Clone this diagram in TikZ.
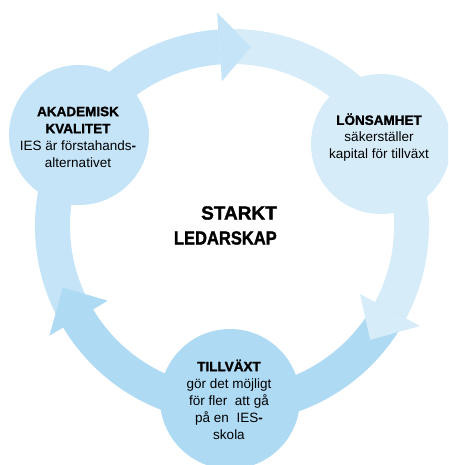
\documentclass[tikz,border=0pt]{standalone}
\usepackage{fontspec}
\setmainfont{Liberation Sans}
\newfontfamily\heavyfont[UprightFont={* Bold}, FakeBold=1.6]{Liberation Sans}
\usepackage{graphicx}
\definecolor{cA}{RGB}{197,228,247}
\definecolor{cB}{RGB}{214,236,249}
\definecolor{cC}{RGB}{174,218,244}
\begin{document}
\begin{tikzpicture}[x=1pt,y=1pt,
  circ/.style={circle, minimum size=140pt, inner sep=0pt},
  lbl/.style={align=center, font=\fontsize{13.5}{17}\selectfont, inner sep=0pt},
  title/.style={align=right, font=\heavyfont\fontsize{19}{25}\selectfont, inner sep=0pt}]
\useasboundingbox (0,0) rectangle (448,-465);
\clip (0,0) rectangle (448,-465);
\coordinate (O) at (232,-226);
% bands
\fill[cA] ([shift={(O)}]211:197) arc[start angle=211,end angle=94,radius=197]
  -- ([shift={(O)}]94:162) arc[start angle=94,end angle=211,radius=162] -- cycle;
\fill[cB] ([shift={(O)}]94:197) arc[start angle=94,end angle=-28,radius=197]
  -- ([shift={(O)}]-28:162) arc[start angle=-28,end angle=94,radius=162] -- cycle;
\fill[cC] ([shift={(O)}]332:197) arc[start angle=332,end angle=211,radius=197]
  -- ([shift={(O)}]211:162) arc[start angle=211,end angle=332,radius=162] -- cycle;
% circles
\node[circ, fill=cA] (akc) at (79,-135) {};
\node[circ, fill=cB] (lonc) at (381,-144) {};
\node[circ, fill=cC] (tilc) at (230,-399) {};
% arrowheads
\fill[cA] ([shift={(O)}]94:145) -- ([shift={(O)}]94:214) -- ([shift={(O)}]84:180) -- cycle;
\fill[cB] ([shift={(O)}]-28:145) -- ([shift={(O)}]-28:213) -- ([shift={(O)}]-39.5:179) -- cycle;
\fill[cC] ([shift={(O)}]211:145) -- ([shift={(O)}]211:213) -- ([shift={(O)}]200:180) -- cycle;
% texts
\node[lbl] (akt) at (akc) [yshift=-2pt, xshift=-1pt] {{\heavyfont AKADEMISK}\\{\heavyfont KVALITET}\\IES är förstahands{\bfseries -}\\alternativet};
\node[lbl] (lont) at (lonc) [yshift=6.5pt, xshift=-2pt] {{\heavyfont LÖNSAMHET}\\säkerställer\\kapital för tillväxt};
\node[lbl] (tilt) at (tilc) [yshift=-0.5pt, xshift=-1pt] {{\heavyfont TILLVÄXT}\\gör det möjligt\\för fler\ \ att gå\\på en\ \ IES{\bfseries -}\\skola};
\node[title, anchor=east] (lead) at (277,-225.5) {STARKT\\\scalebox{0.87}[1]{LEDARSKAP}};
\end{tikzpicture}
\end{document}
